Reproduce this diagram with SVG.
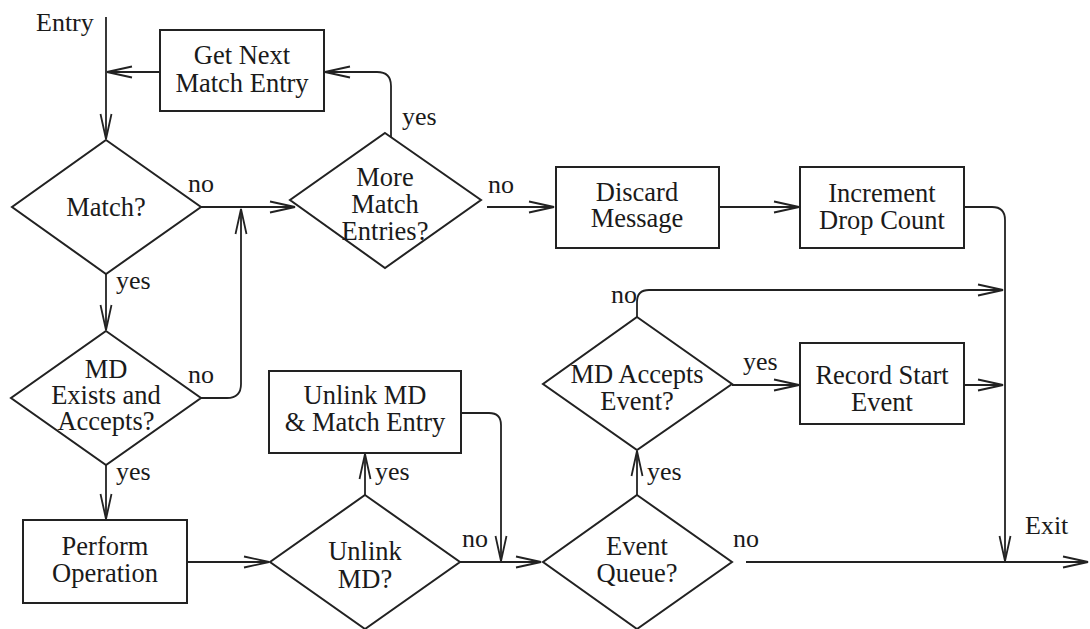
<svg xmlns="http://www.w3.org/2000/svg" width="1090" height="629" viewBox="0 0 1090 629">
<style>
  .box { fill: #fff; stroke: #222; stroke-width: 2; }
  .dia { fill: none; stroke: #222; stroke-width: 2; }
  .t { font-family: "Liberation Serif", "Times New Roman", serif; font-size: 26.5px; fill: #1a1a1a; text-anchor: middle; }
  .lbl { font-family: "Liberation Serif", "Times New Roman", serif; font-size: 26px; fill: #1a1a1a; }
  .c { fill: none; stroke: #222; stroke-width: 1.8; marker-end: url(#arr); }
</style>
<defs>
  <marker id="arr" viewBox="-27 -8 30 16" refX="0" refY="0" markerWidth="30" markerHeight="16" markerUnits="userSpaceOnUse" orient="auto">
    <path d="M-25,-5.5 L0,0 L-25,5.5" fill="none" stroke="#222" stroke-width="1.8"/>
  </marker>
</defs>
<rect width="1090" height="629" fill="#fff"/>

<g id="connectors">
  <path class="c" d="M106,17 L106,139"/>
  <path class="c" d="M160,72 L107,72"/>
  <path class="c" d="M106,274 L106,330"/>
  <path class="c" d="M201,207 L295,207"/>
  <path class="c" d="M201,398 L227,398 Q241,398 241,384 L241,209"/>
  <path class="c" d="M391,137 L391,86 Q391,72 377,72 L325,72"/>
  <path class="c" d="M487,207 L554,207"/>
  <path class="c" d="M719,207 L799,207"/>
  <path class="c" d="M964,207 L992,207 Q1005,207 1005,220 L1005,561"/>
  <path class="c" d="M106,465 L106,519"/>
  <path class="c" d="M187,562 L269,562"/>
  <path class="c" d="M365,495 L365,454"/>
  <path class="c" d="M461,413 L489,413 Q501,413 501,425 L501,561"/>
  <path class="c" d="M460,562 L541,562"/>
  <path class="c" d="M637,495 L637,451"/>
  <path class="c" d="M746,562 L1088,562"/>
  <path class="c" d="M637,317 L637,302 Q637,290 649,290 L1003,290"/>
  <path class="c" d="M732,385 L799,385"/>
  <path class="c" d="M964,385 L1003,385"/>
</g>

<g id="labels">
  <text class="lbl" x="36" y="31">Entry</text>
  <text class="lbl" x="188" y="192">no</text>
  <text class="lbl" x="116" y="289">yes</text>
  <text class="lbl" x="188" y="383">no</text>
  <text class="lbl" x="116" y="480">yes</text>
  <text class="lbl" x="402" y="125">yes</text>
  <text class="lbl" x="488" y="193">no</text>
  <text class="lbl" x="375" y="480">yes</text>
  <text class="lbl" x="462" y="547">no</text>
  <text class="lbl" x="647" y="480">yes</text>
  <text class="lbl" x="611" y="303">no</text>
  <text class="lbl" x="743" y="370">yes</text>
  <text class="lbl" x="733" y="547">no</text>
  <text class="lbl" x="1025" y="534">Exit</text>
</g>

<g id="get-next">
  <rect class="box" x="160" y="30" width="164" height="81"/>
  <text class="t" x="242" y="64">Get Next</text>
  <text class="t" x="242" y="92">Match Entry</text>
</g>

<g id="match">
  <polygon class="dia" points="106,140 201,207 106,274 12,207"/>
  <text class="t" x="106" y="216">Match?</text>
</g>

<g id="more-match">
  <polygon class="dia" points="385,133 481,200 385,268 290,200"/>
  <text class="t" x="385" y="186">More</text>
  <text class="t" x="385" y="213">Match</text>
  <text class="t" x="385" y="240">Entries?</text>
</g>

<g id="discard">
  <rect class="box" x="556" y="167" width="163" height="81"/>
  <text class="t" x="637" y="201">Discard</text>
  <text class="t" x="637" y="227">Message</text>
</g>

<g id="increment">
  <rect class="box" x="800" y="167" width="164" height="81"/>
  <text class="t" x="882" y="202">Increment</text>
  <text class="t" x="882" y="229">Drop Count</text>
</g>

<g id="md-exists">
  <polygon class="dia" points="106,331 201,398 106,465 11,398"/>
  <text class="t" x="106" y="378">MD</text>
  <text class="t" x="106" y="404">Exists and</text>
  <text class="t" x="106" y="430">Accepts?</text>
</g>

<g id="perform">
  <rect class="box" x="23" y="520" width="164" height="83"/>
  <text class="t" x="105" y="555">Perform</text>
  <text class="t" x="105" y="582">Operation</text>
</g>

<g id="unlink-box">
  <rect class="box" x="269" y="371" width="192" height="82"/>
  <text class="t" x="365" y="404">Unlink MD</text>
  <text class="t" x="365" y="431">&amp; Match Entry</text>
</g>

<g id="unlink-md">
  <polygon class="dia" points="365,495 460,562 365,629 270,562"/>
  <text class="t" x="365" y="560">Unlink</text>
  <text class="t" x="365" y="588">MD?</text>
</g>

<g id="md-accepts">
  <polygon class="dia" points="637,317 732,384 637,450 543,384"/>
  <text class="t" x="637" y="383">MD Accepts</text>
  <text class="t" x="637" y="410">Event?</text>
</g>

<g id="record">
  <rect class="box" x="800" y="343" width="164" height="81"/>
  <text class="t" x="882" y="384">Record Start</text>
  <text class="t" x="882" y="411">Event</text>
</g>

<g id="event-queue">
  <polygon class="dia" points="637,495 732,562 637,629 543,562"/>
  <text class="t" x="637" y="555">Event</text>
  <text class="t" x="637" y="582">Queue?</text>
</g>
</svg>
